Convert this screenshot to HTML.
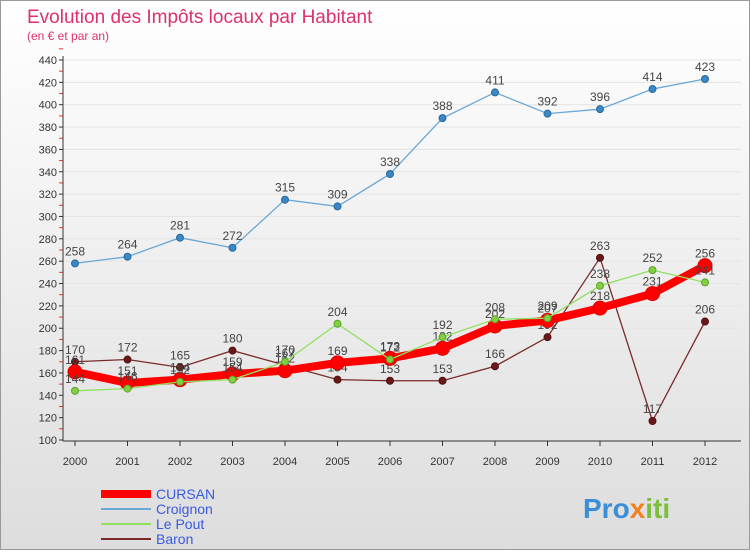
<!DOCTYPE html>
<html><head><meta charset="utf-8"><style>
body{margin:0;width:750px;height:550px;overflow:hidden;font-family:"Liberation Sans",sans-serif}
#wrap{position:relative;width:748px;height:548px;border:1px solid #999;background:linear-gradient(#fff,#ddd)}
</style></head><body>
<div id="wrap">
<svg id="chart" width="748" height="548" xmlns="http://www.w3.org/2000/svg">
<text x="26" y="22" font-size="19" fill="#e0306a">Evolution des Impôts locaux par Habitant</text>
<text x="26" y="39" font-size="12" fill="#e0306a">(en € et par an)</text>
<g id="grid"></g><g id="axes"></g><g id="series"></g><g id="legend"></g>
<text x="582" y="517" font-size="28" font-weight="bold" fill="#3a8fd8">Pro<tspan fill="#f08020">x</tspan><tspan fill="#7cc03a">iti</tspan></text>
</svg></div>
<script>
const years=[2000,2001,2002,2003,2004,2005,2006,2007,2008,2009,2010,2011,2012];
const cursan=[161,151,154,159,162,169,173,182,202,207,218,231,256];
const croignon=[258,264,281,272,315,309,338,388,411,392,396,414,423];
const lepout=[144,146,152,154,170,204,172,192,208,209,238,252,241];
const baron=[170,172,165,180,167,154,153,153,166,192,263,117,206];
const yTicks=[100,120,140,160,180,200,220,240,260,280,300,320,340,360,380,400,420,440];
const NS="http://www.w3.org/2000/svg";
const x=i=>74+i*52.5, y=v=>439-(v-100)*(380/340);
function mk(t,a,p){const e=document.createElementNS(NS,t);for(const k in a)e.setAttribute(k,a[k]);p.appendChild(e);return e;}
const grid=document.getElementById('grid'),axes=document.getElementById('axes'),ser=document.getElementById('series'),leg=document.getElementById('legend');
yTicks.forEach(v=>{
 const l=mk('line',{x1:62,x2:740,y1:y(v),y2:y(v),stroke:'#e4e4e4'},grid);
 
 const t=mk('text',{x:56,y:y(v)+4,'font-size':11,'text-anchor':'end',fill:'#333'},axes);t.textContent=v;
 
 mk('line',{x1:58,x2:62,y1:y(v),y2:y(v),stroke:'#333'},axes);
 mk('line',{x1:58,x2:62,y1:y(v+10),y2:y(v+10),stroke:'#e33'},axes);
});
const ax=mk('line',{x1:62,x2:62,y1:55,y2:440,stroke:'#333'},axes);
const bx=mk('line',{x1:62,x2:740,y1:440,y2:440,stroke:'#333'},axes);
years.forEach((yr,i)=>{
 mk('line',{x1:x(i),x2:x(i),y1:440,y2:445,stroke:'#333'},axes);
 const t=mk('text',{x:x(i),y:464,'font-size':11,'text-anchor':'middle',fill:'#333'},axes);t.textContent=yr;
 
});
function draw(vals,col,w,r,name,fill,stroke){
 const g=mk('g',{},ser);
 mk('polyline',{points:vals.map((v,i)=>x(i)+','+y(v)).join(' '),fill:'none',stroke:col,'stroke-width':w},g);
 vals.forEach((v,i)=>{
  const c=mk('circle',{cx:x(i),cy:y(v),r:r,fill:fill,stroke:stroke,'stroke-width':1},g);
  
  const t=mk('text',{x:x(i),y:y(v)-8,'font-size':12,'text-anchor':'middle',fill:'#444'},g);t.textContent=v;
  
 });
}
draw(croignon,'#6aa8d8',1.3,3.5,'croignon','#3a88c8','#2a6898');
draw(baron,'#7a2a2a',1.3,3.5,'baron','#6a1818','#501010');
draw(cursan,'#ff0000',8,7,'cursan','#ff0000','#e00000');
draw(lepout,'#90e060',1.3,3.5,'le-pout','#80d040','#60a030');
const L=[['CURSAN','#ff0000',8],['Croignon','#6aa8d8',2],['Le Pout','#90e060',2],['Baron','#7a2a2a',2]];
L.forEach((e,i)=>{
 const yy=493+i*15;
 const ln=mk('line',{x1:100,x2:150,y1:yy,y2:yy,stroke:e[1],'stroke-width':e[2]},leg);
 
 const t=mk('text',{x:155,y:yy+5,'font-size':14,fill:'#3a5ae0'},leg);t.textContent=e[0];
 
});
</script></body></html>
